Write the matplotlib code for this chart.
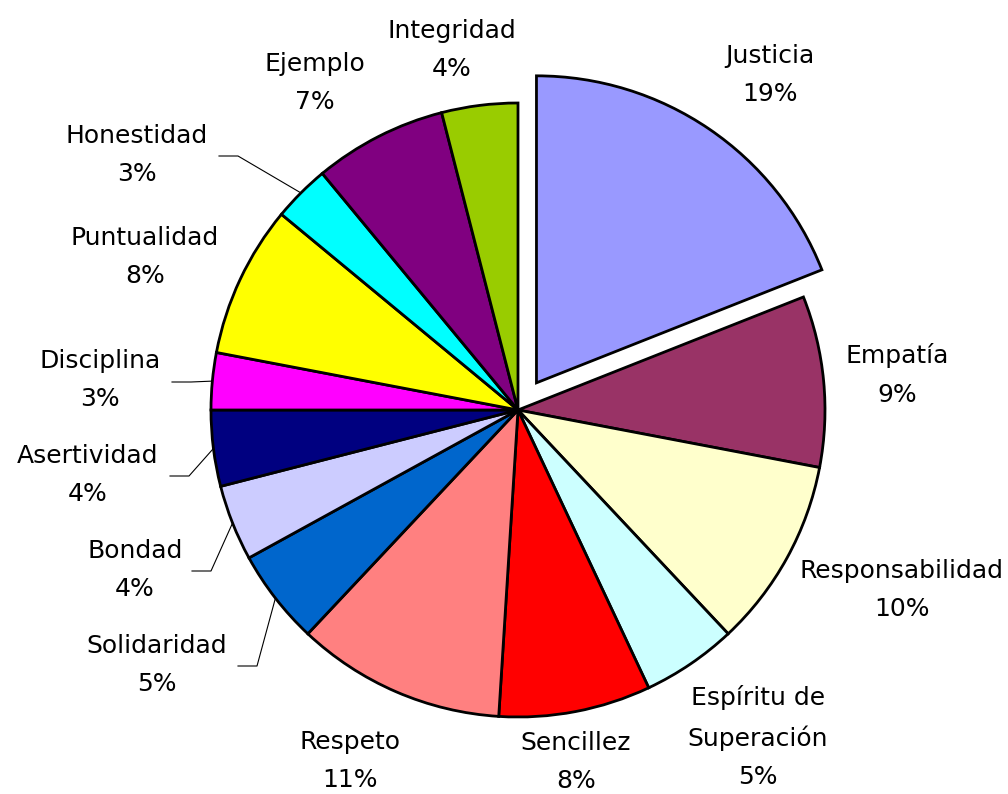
import matplotlib
matplotlib.use('Agg')
import matplotlib.pyplot as plt
import numpy as np

categories = ['Justicia', 'Empatía', 'Responsabilidad', 'Espíritu de\nSuperación',
              'Sencillez', 'Respeto', 'Solidaridad', 'Bondad', 'Asertividad',
              'Disciplina', 'Puntualidad', 'Honestidad', 'Ejemplo', 'Integridad']
values = [19, 9, 10, 5, 8, 11, 5, 4, 4, 3, 8, 3, 7, 4]
colors = ['#9999FF', '#993366', '#FFFFCC', '#CCFFFF', '#FF0000', '#FF8080', '#0066CC',
          '#CCCCFF', '#000080', '#FF00FF', '#FFFF00', '#00FFFF', '#800080', '#99CC00']
explode = [0.107] + [0] * 13

# layout (pixels): pie centre, radius, label centres, leader elbows
CX, CY, R = 518, 410, 307
label_pos = [(770, 75), (897, 375), (902, 590), (758, 737), (576, 762), (350, 761),
             (157, 665), (135, 570), (88, 475), (100, 380), (145, 257), (137, 155),
             (315, 83), (452, 50)]
elbows = {6: (257, 666), 7: (211, 571), 8: (189, 476), 9: (191, 382), 11: (238, 156)}


def px(x, y):
    return (x - CX) / R, (CY - y) / R


fig = plt.figure(figsize=(10.08, 7.94), dpi=100)
ax = fig.add_axes([0, 0, 1, 1])
wedges, _ = ax.pie(values, colors=colors, explode=explode, startangle=90,
                   counterclock=False, radius=1,
                   wedgeprops=dict(edgecolor='black', linewidth=2))
ax.set_aspect('equal')
ax.set_xlim(-CX / R, (1008 - CX) / R)
ax.set_ylim(-(794 - CY) / R, CY / R)
ax.axis('off')

total = sum(values)
for i, (name, v) in enumerate(zip(categories, values)):
    x, y = px(*label_pos[i])
    ax.text(x, y, f'{name}\n{v / total:.0%}', ha='center', va='center',
            fontsize=18, family='DejaVu Sans', linespacing=1.75)
    if i in elbows:
        w = wedges[i]
        mid = np.deg2rad((w.theta1 + w.theta2) / 2)
        ex, ey = np.cos(mid), np.sin(mid)
        bx, by = px(*elbows[i])
        tx, _ = px(elbows[i][0] - 19, elbows[i][1])
        ax.plot([ex, bx, tx], [ey, by, by], color='black', linewidth=0.8)

fig.savefig('out.png', dpi=100)
